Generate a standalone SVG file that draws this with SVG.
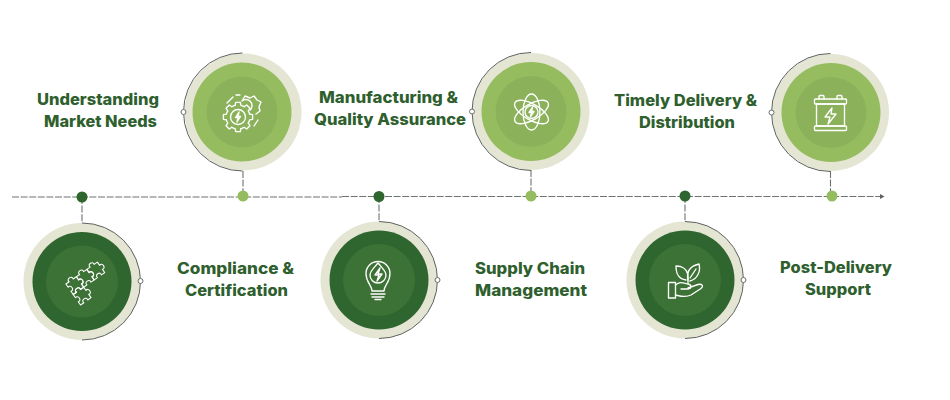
<svg xmlns="http://www.w3.org/2000/svg" xmlns:xlink="http://www.w3.org/1999/xlink" width="950" height="400" viewBox="0 0 950 400">
<style>
.t{font-family:"Inter","Liberation Sans",sans-serif;font-weight:800;font-size:15.5px;fill:#2f5f2e}
.ring{fill:#e4e5d3}
.lo{fill:#2f662f}.li{fill:#3c7235}
.uo{fill:#95bd5f}.ui{fill:#8bb25a}
.arc{fill:none;stroke:#5c6360;stroke-width:1}
.pin{fill:#fff;stroke:#6b716c;stroke-width:1}
.ln{fill:none;stroke:#6d736e;stroke-width:1.1;stroke-dasharray:7 1.6}
.ic{fill:none;stroke:#fff;stroke-width:1.35;stroke-linejoin:round;stroke-linecap:round}
.dd{fill:#2f662f}.dl{fill:#95bd5f}
</style>
<defs>
<marker id="ah" markerUnits="userSpaceOnUse" markerWidth="6" markerHeight="6" refX="4" refY="2.5" orient="auto"><path d="M0,0 L4.5,2.5 L0,5Z" fill="#5c6360"/></marker>
<path id="tooth" d="M-2.9,-11.6 L-2.3,-14.6 L2.3,-14.6 L2.9,-11.6 A12 12 0 0 1 6.2,-10.3"/>
<path id="piece" d="M-8,-8 H-3 C-5,-13 5,-13 3,-8 H8 V-3 C13,-5 13,5 8,3 V8 H3 C5,3 -5,3 -3,8 H-8 V3 C-3,5 -3,-5 -8,-3Z"/>
</defs>
<g id="connectors">
<path class="ln" d="M12,197 H342" />
<path class="ln" d="M342,196.500 H884" marker-end="url(#ah)"/>
<path class="ln" d="M82,197 V223"/>
<path class="ln" d="M243,171 V196"/>
<path class="ln" d="M379,196 V222"/>
<path class="ln" d="M531,170 V196"/>
<path class="ln" d="M685,196 V222"/>
<path class="ln" d="M830.500,171 V196"/>
</g>
<g id="node-1">
<circle class="ring" cx="82" cy="281.500" r="58.500"/>
<path class="arc" d="M82,223 A58.500,58.500 0 0 1 82,340"/>
<circle class="pin" cx="140.500" cy="281" r="2.500"/>
<circle class="dd" cx="82" cy="197" r="5.500"/>
<circle class="lo" cx="82" cy="281.500" r="49.500"/><circle class="li" cx="82" cy="281.500" r="36"/>
<g class="ic">
<use xlink:href="#piece" transform="translate(95.800,271) rotate(-35) scale(.8)"/>
<use xlink:href="#piece" transform="translate(85.300,278.300) rotate(-35) scale(.8)"/>
<use xlink:href="#piece" transform="translate(74.800,285.600) rotate(-35) scale(.8)"/>
<use xlink:href="#piece" transform="translate(82.100,296.100) rotate(-35) scale(.8)"/>
</g>
<text class="t" x="177" y="274" textLength="117" lengthAdjust="spacingAndGlyphs">Compliance &amp;</text>
<text class="t" x="185" y="296" textLength="103" lengthAdjust="spacingAndGlyphs">Certification</text>
</g>
<g id="node-2">
<circle class="ring" cx="243" cy="112" r="58.500"/>
<path class="arc" d="M242.500,53 A59,59 0 0 0 242.500,171"/>
<circle class="pin" cx="183.500" cy="112" r="2.500"/>
<circle class="dl" cx="243" cy="196" r="5.500"/>
<circle class="uo" cx="242" cy="112" r="49.500"/><circle class="ui" cx="242" cy="112" r="35.500"/>
<g class="ic">
<g transform="translate(238,117)">
<use xlink:href="#tooth"/><use xlink:href="#tooth" transform="rotate(45)"/><use xlink:href="#tooth" transform="rotate(90)"/><use xlink:href="#tooth" transform="rotate(135)"/><use xlink:href="#tooth" transform="rotate(180)"/><use xlink:href="#tooth" transform="rotate(225)"/><use xlink:href="#tooth" transform="rotate(270)"/><use xlink:href="#tooth" transform="rotate(315)"/>
<circle r="7.500"/><path d="M1,-5 L-2.500,0.500 H0 L-1,5 L2.500,-0.500 H0Z"/>
</g>
<path d="M242,101 L245,96 L250,98 L254,96 L257,100 L261,102 L259,107 L260,111 L256,114 M242,101 A5.500 5.500 0 1 1 250,110"/>
<path d="M227,103 L233,97 M236,95 L240,95 M254,126 L258,120"/>
</g>
<text class="t" x="37" y="105" textLength="122" lengthAdjust="spacingAndGlyphs">Understanding</text>
<text class="t" x="44" y="127" textLength="113" lengthAdjust="spacingAndGlyphs">Market Needs</text>
</g>
<g id="node-3">
<circle class="ring" cx="379" cy="280" r="58.500"/>
<path class="arc" d="M379,221.500 A58.500,58.500 0 0 1 379,338.500"/>
<circle class="pin" cx="437.500" cy="280" r="2.500"/>
<circle class="dd" cx="379" cy="196.500" r="5.500"/>
<circle class="lo" cx="379" cy="280" r="49.500"/><circle class="li" cx="379" cy="280" r="36"/>
<g class="ic">
<path d="M372,291 C372,285 366,283 366,273.500 A12,12 0 1 1 390,273.500 C390,283 384,285 384,291Z"/>
<path d="M378,263 C382,268 386,271 386,275 A8,8 0 0 1 370,275 C370,271 374,268 378,263Z"/>
<path d="M380,268 L375,275 H379 L377,281 L382,274 H378Z"/>
<path d="M371,294 H385 M372,297 H384 M375,299.500 H381"/>
</g>
<text class="t" x="475" y="274" textLength="110" lengthAdjust="spacingAndGlyphs">Supply Chain</text>
<text class="t" x="475" y="296" textLength="112" lengthAdjust="spacingAndGlyphs">Management</text>
</g>
<g id="node-4">
<circle class="ring" cx="531" cy="111.500" r="58.500"/>
<path class="arc" d="M531,52.500 A59,59 0 0 0 531,170.500"/>
<circle class="pin" cx="472" cy="111.500" r="2.500"/>
<circle class="dl" cx="531" cy="196" r="5.500"/>
<circle class="uo" cx="531" cy="111.500" r="49.500"/><circle class="ui" cx="531" cy="111.500" r="35.500"/>
<g class="ic" transform="translate(531.500,112)">
<ellipse rx="8.500" ry="18"/>
<ellipse rx="19" ry="8" transform="rotate(30)"/>
<ellipse rx="19" ry="8" transform="rotate(-30)"/>
<circle r="6.500" fill="#8bb25a"/>
<path d="M1,-4.500 L-2.500,0.500 H0 L-1,4.500 L2.500,-0.500 H0Z"/>
</g>
<text class="t" x="319" y="103" textLength="139" lengthAdjust="spacingAndGlyphs">Manufacturing &amp;</text>
<text class="t" x="314" y="125" textLength="152" lengthAdjust="spacingAndGlyphs">Quality Assurance</text>
</g>
<g id="node-5">
<circle class="ring" cx="685" cy="280" r="58.500"/>
<path class="arc" d="M685,221.500 A58.500,58.500 0 0 1 685,338.500"/>
<circle class="pin" cx="743.500" cy="280" r="2.500"/>
<circle class="dd" cx="685" cy="196" r="5.500"/>
<circle class="lo" cx="685" cy="280" r="49.500"/><circle class="li" cx="685" cy="280" r="36"/>
<g class="ic">
<rect x="668.500" y="282.500" width="7" height="15.500"/>
<path d="M675.500,285 C680,281 683,283 688,284 C692,285 692,289 687,289 H681 M688,288 L698,284.500 C702,283.500 704,286 701,288.500 L691,295 C685,298 680,296 675.500,295"/>
<path d="M688,283 V275 M686,280 C679,279 676,275 676,266 C682,266 687,269 688,275"/>
<path d="M688,280 C686,272 690,266 699,264 C701,272 697,279 690,281 M690,278 L696,269"/>
</g>
<text class="t" x="780" y="273" textLength="112" lengthAdjust="spacingAndGlyphs">Post-Delivery</text>
<text class="t" x="805" y="295" textLength="66" lengthAdjust="spacingAndGlyphs">Support</text>
</g>
<g id="node-6">
<circle class="ring" cx="830.500" cy="112.500" r="58.500"/>
<path class="arc" d="M830.500,53.500 A59,59 0 0 0 830.500,171.500"/>
<circle class="pin" cx="771.500" cy="112.500" r="2.500"/>
<circle class="dl" cx="832" cy="196" r="5.500"/>
<circle class="uo" cx="831" cy="112.500" r="49.500"/><circle class="ui" cx="831" cy="112.500" r="35.500"/>
<g class="ic">
<rect x="814.500" y="99" width="32" height="5" rx="1"/>
<rect x="816.500" y="104" width="28" height="22"/>
<rect x="814.500" y="126" width="32" height="4.500" rx="1"/>
<path d="M819,99 V96.500 A1,1 0 0 1 820,95.500 H823 A1,1 0 0 1 824,96.500 V99 M837,99 V96.500 A1,1 0 0 1 838,95.500 H841 A1,1 0 0 1 842,96.500 V99"/>
<path d="M832,108 L825,117 H830 L828,124 L836,114 H831Z"/>
</g>
<text class="t" x="614" y="106" textLength="143" lengthAdjust="spacingAndGlyphs">Timely Delivery &amp;</text>
<text class="t" x="639" y="128" textLength="96" lengthAdjust="spacingAndGlyphs">Distribution</text>
</g>
</svg>
